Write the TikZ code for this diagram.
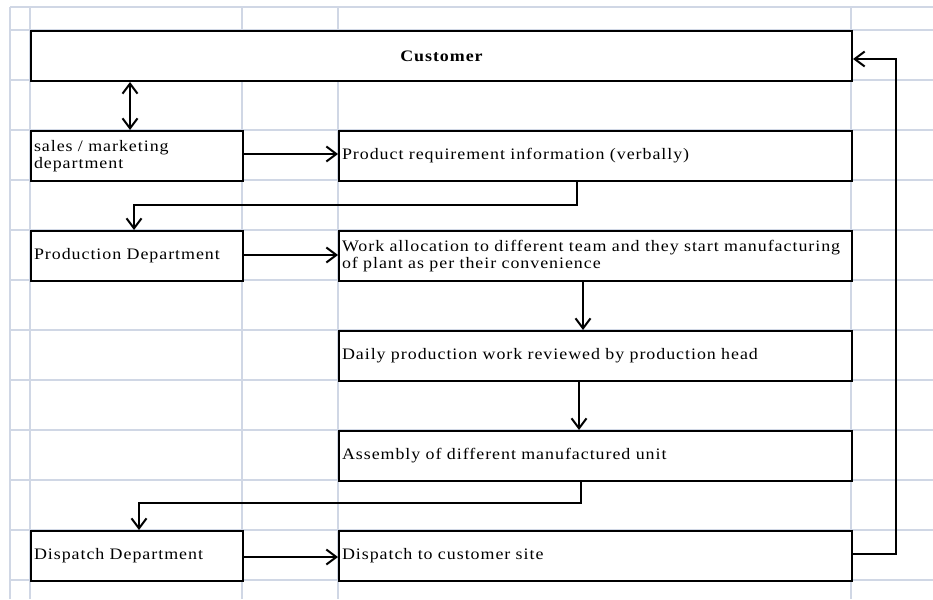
\documentclass[tikz,border=0pt]{standalone}
\usepackage{fontspec}
\setmainfont{Liberation Serif}[FakeStretch=1.12,LetterSpace=6]
\usetikzlibrary{arrows.meta}
\definecolor{gridline}{RGB}{208,215,229}
\tikzset{
  grid line/.style={draw=gridline,line width=1.5pt},
  box/.style={draw,fill=white,line width=2pt,anchor=north west,inner xsep=3pt,inner ysep=0pt,
    minimum height=50pt,align=left,font=\fontsize{16pt}{17.5pt}\selectfont},
  left box/.style={box,text width=206pt},
  right box/.style={box,text width=507pt},
  flow/.style={line width=2pt,>={Straight Barb[length=10pt,width=15pt,line width=2pt]}}
}
\begin{document}
\begin{tikzpicture}[x=1pt,y=-1pt]
\useasboundingbox (0,0) rectangle (933,599);
% sheet grid
\draw[grid line] (10,7)--(933,7);
\foreach \y in {30,80,...,580} \draw[grid line] (10,\y)--(933,\y);
\foreach \x in {10,30,242,338,851} \draw[grid line] (\x,7)--(\x,599);
% boxes
\node[box,text width=815pt,align=center] (customer) at (30,30) {\bfseries Customer};
\node[left box] (sales) at (30,130) {sales / marketing\\department};
\node[right box] (req) at (338,130) {Product requirement information (verbally)};
\node[left box] (prod) at (30,230) {Production Department};
\node[right box] (work) at (338,230) {Work allocation to different team and they start manufacturing\\of plant as per their convenience};
\node[right box] (daily) at (338,330) {Daily production work reviewed by production head};
\node[right box] (assembly) at (338,430) {Assembly of different manufactured unit};
\node[left box] (dispatch) at (30,530) {Dispatch Department};
\node[right box] (site) at (338,530) {Dispatch to customer site};
% connectors
\draw[flow,<->] ([xshift=100pt]sales.north west |- customer.south)--([xshift=100pt]sales.north west);
\draw[flow,->] ([yshift=2pt]sales.east)--([yshift=2pt]req.west);
\draw[flow,->] ([xshift=239pt]req.south west)--++(0,23)-|([xshift=104pt]prod.north west);
\draw[flow,->] ([yshift=1pt]prod.east)--([yshift=1pt]work.west);
\draw[flow,->] ([xshift=245pt]work.south west)--([xshift=245pt]work.south west |- daily.north);
\draw[flow,->] ([xshift=241pt]daily.south west)--([xshift=241pt]daily.south west |- assembly.north);
\draw[flow,->] ([xshift=243pt]assembly.south west)--++(0,21)-|([xshift=109pt]dispatch.north west);
\draw[flow,->] ([yshift=-1pt]dispatch.east)--([yshift=-1pt]site.west);
\draw[flow,->] ([yshift=2pt]site.east)--++(43,0)|-([yshift=-3pt]customer.east);
\end{tikzpicture}
\end{document}
